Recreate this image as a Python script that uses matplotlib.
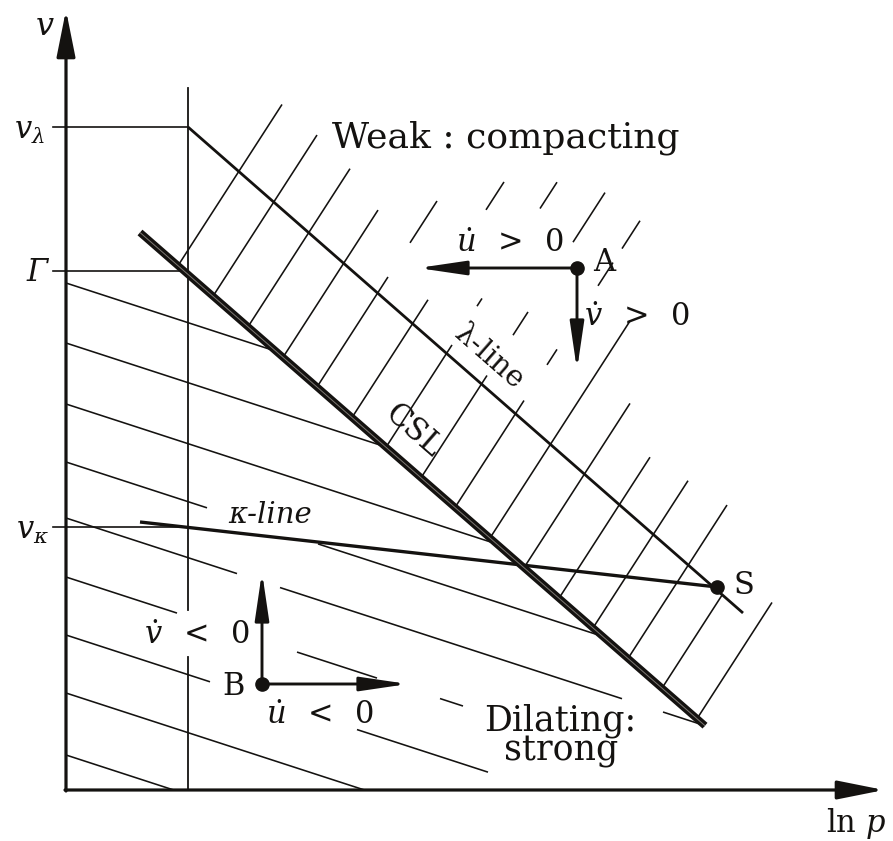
import numpy as np
import matplotlib
matplotlib.use("Agg")
import matplotlib.pyplot as plt

plt.rcParams['font.family'] = ['DejaVu Serif']
plt.rcParams['mathtext.fontset'] = 'dejavuserif'

INK = '#141210'

# Canvas in drawing units (1 unit = 1 px, v measured downward on screen)
W, H = 893, 841
x0_axis, y0_axis = 66, 790          # origin of the (ln p, v) frame
x_axis_tip, y_axis_tip = 884, 10

# Reference levels on the v axis and the vertical reference line
v_lambda_level = 127
gamma_level = 271
v_kappa_level = 527
tick_start = 53
p_ref = 188
p_ref_top = 88
p_ref_gap = (610, 657)

# Characteristic lines: (x, y) end points
lambda_line = [(188, 127), (743, 613)]
csl_line = [(140, 232.5), (705, 725.7)]
kappa_line = [(140, 522), (717, 587)]

# States and their rate arrows
point_A = (577, 268)
point_B = (262, 684)
point_S = (717, 587)
arrow_A_left_tip = 418
arrow_A_down_tip = 370
arrow_B_up_tip = 572
arrow_B_right_tip = 408

# Hatching above the CSL: start x on the CSL and drawn x-ranges
upper_slope = -1.55
upper_x0 = [178, 213, 248, 283, 317, 352, 386, 421, 455, 490, 524, 559, 593, 628, 662, 697]
upper_segments = [
    [(178, 282)],
    [(213, 317)],
    [(248, 350)],
    [(283, 378)],
    [(317, 388), (410, 437)],
    [(352, 428), (486, 504)],
    [(386, 452), (477, 482), (540, 557)],
    [(421, 487), (513, 528), (573, 605)],
    [(455, 524), (547, 557), (598, 613), (622, 640)],
    [(490, 630)],
    [(524, 630)],
    [(559, 650)],
    [(593, 688)],
    [(628, 727)],
    [(662, 722)],
    [(697, 772)],
]

# Hatching below the CSL: level where each line leaves the v axis and x-ranges
lower_slope = 0.325
lower_y0 = [283, 343, 404, 462, 518, 577, 635, 693, 755]
lower_segments = [
    [(66, None)],
    [(66, None)],
    [(66, None)],
    [(66, 207), (318, None)],
    [(66, 237), (280, 622), (663, None)],
    [(66, 177), (297, 377), (440, 463)],
    [(66, 210), (357, 488)],
    [(66, None)],
    [(66, None)],
]


def csl_y(x):
    (xa, ya), (xb, yb) = csl_line
    return ya + (yb - ya) * (x - xa) / (xb - xa)


csl_k = (csl_line[1][1] - csl_line[0][1]) / (csl_line[1][0] - csl_line[0][0])
csl_b = csl_line[0][1] - csl_k * csl_line[0][0]

fig = plt.figure(figsize=(W / 100, H / 100), dpi=100)
ax = fig.add_axes([0, 0, 1, 1])
ax.set_xlim(0, W)
ax.set_ylim(H, 0)
ax.axis('off')

HATCH_LW = 1.15

# --- hatching -------------------------------------------------------------
for x0, segs in zip(upper_x0, upper_segments):
    y_start = csl_y(x0)
    for xa, xb in segs:
        xs = np.array([xa, xb], dtype=float)
        ys = y_start + upper_slope * (xs - x0)
        ax.plot(xs, ys, color=INK, lw=HATCH_LW, solid_capstyle='butt')

for y0, segs in zip(lower_y0, lower_segments):
    for xa, xb in segs:
        if xb is None:
            # run to the CSL or to the ln p axis, whichever comes first
            x_csl = (y0 - lower_slope * x0_axis - csl_b) / (csl_k - lower_slope)
            x_base = x0_axis + (y0_axis - y0) / lower_slope
            xb = x_csl if x_csl <= csl_line[1][0] else x_base
            xb = min(xb, x_base)
        xs = np.array([xa, xb], dtype=float)
        ys = y0 + lower_slope * (xs - x0_axis)
        ax.plot(xs, ys, color=INK, lw=HATCH_LW, solid_capstyle='butt')

# --- reference lines ------------------------------------------------------
for level in (v_lambda_level, gamma_level, v_kappa_level):
    ax.plot([tick_start, p_ref], [level] * 2, color=INK, lw=1.2)
ax.plot([p_ref, p_ref], [p_ref_top, p_ref_gap[0]], color=INK, lw=1.3)
ax.plot([p_ref, p_ref], [p_ref_gap[1], y0_axis], color=INK, lw=1.3)

# --- characteristic lines -------------------------------------------------
ax.plot(*zip(*lambda_line), color=INK, lw=2.0, solid_capstyle='butt')
ax.plot(*zip(*kappa_line), color=INK, lw=2.4, solid_capstyle='butt')
ax.plot(*zip(*csl_line), color=INK, lw=5.4, solid_capstyle='butt')
ax.plot(*zip(*csl_line), color='#7d7873', lw=0.7, solid_capstyle='butt')

# --- axes with arrow heads ------------------------------------------------
axis_arrow = dict(arrowstyle='-|>,head_length=1.5,head_width=0.3', mutation_scale=19,
                  lw=2.3, color=INK, shrinkA=0, shrinkB=0)
ax.annotate('', xy=(x0_axis, y_axis_tip), xytext=(x0_axis, y0_axis + 1), arrowprops=axis_arrow)
ax.annotate('', xy=(x_axis_tip, y0_axis), xytext=(x0_axis - 1, y0_axis), arrowprops=axis_arrow)

# --- rate arrows ----------------------------------------------------------
rate_arrow = dict(arrowstyle='-|>,head_length=1.7,head_width=0.25', mutation_scale=17,
                  lw=2.1, color=INK, shrinkA=0, shrinkB=0)
ax.annotate('', xy=(arrow_A_left_tip, point_A[1]), xytext=point_A, arrowprops=rate_arrow)
ax.annotate('', xy=(point_A[0], arrow_A_down_tip), xytext=point_A, arrowprops=rate_arrow)
ax.annotate('', xy=(point_B[0], arrow_B_up_tip), xytext=point_B, arrowprops=rate_arrow)
ax.annotate('', xy=(arrow_B_right_tip, point_B[1]), xytext=point_B, arrowprops=rate_arrow)

for p in (point_A, point_B, point_S):
    ax.plot(*p, 'o', color=INK, ms=9.5, zorder=5)

# --- labels ---------------------------------------------------------------
ax.text(36, 35, 'v', fontsize=23, style='italic', color=INK, ha='left', va='baseline')
ax.text(14, 139, r'$v_{\lambda}$', fontsize=22, color=INK, ha='left', va='baseline')
ax.text(26, 281, 'Γ', fontsize=22, style='italic', color=INK, ha='left', va='baseline')
ax.text(16, 539, r'$v_{\kappa}$', fontsize=22, color=INK, ha='left', va='baseline')
ax.text(826, 832, r'$\mathrm{ln}\ p$', fontsize=22, color=INK, ha='left', va='baseline')

ax.text(332, 147, 'Weak : compacting', fontsize=26, color=INK, ha='left', va='baseline')
ax.text(484, 730, 'Dilating:', fontsize=25, color=INK, ha='left', va='baseline')
ax.text(504, 761, 'strong', fontsize=25, color=INK, ha='left', va='baseline')

ax.text(510, 243, r'$\dot{u}\;\;>\;\;0$', fontsize=22, color=INK, ha='center', va='center')
ax.text(593, 271, 'A', fontsize=22, color=INK, ha='left', va='baseline')
ax.text(637, 318, r'$\dot{v}\;\;>\;\;0$', fontsize=22, color=INK, ha='center', va='center')
ax.text(733, 594, 'S', fontsize=22, color=INK, ha='left', va='baseline')
ax.text(197, 635, r'$\dot{v}\;\;<\;\;0$', fontsize=22, color=INK, ha='center', va='center')
ax.text(222, 695, 'B', fontsize=22, color=INK, ha='left', va='baseline')
ax.text(320, 716, r'$\dot{u}\;\;<\;\;0$', fontsize=22, color=INK, ha='center', va='center')

ang = -np.degrees(np.arctan2(lambda_line[1][1] - lambda_line[0][1],
                             lambda_line[1][0] - lambda_line[0][0]))
ax.text(489, 357, 'λ-line', fontsize=21, color=INK, rotation=ang,
        rotation_mode='anchor', ha='center', va='center')
ax.text(413, 431, 'CSL', fontsize=22, color=INK, rotation=ang,
        rotation_mode='anchor', ha='center', va='center')
ax.text(270, 515, 'κ-line', fontsize=21, style='italic', color=INK, ha='center', va='center')

fig.savefig('out.png', dpi=100, facecolor='white')
